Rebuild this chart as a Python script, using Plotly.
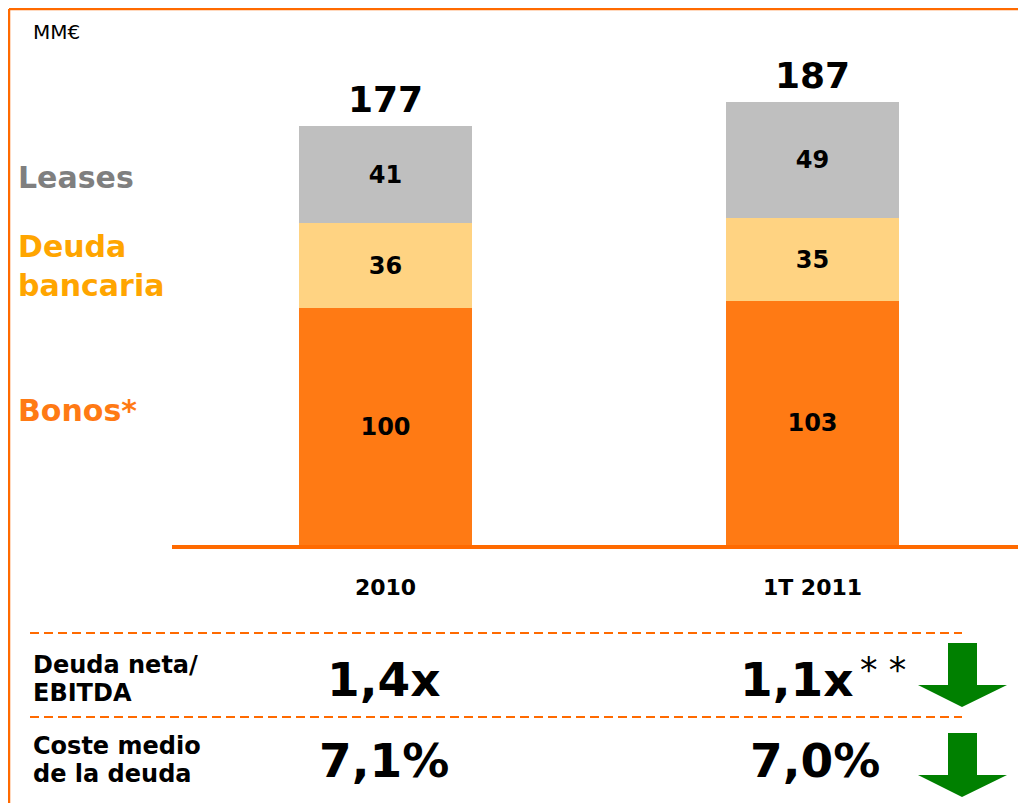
import plotly.graph_objects as go

W, H = 1026, 803
OFF = 8  # the page body adds an 8px margin

# Data
categories = ["2010", "1T 2011"]
bonos = [100, 103]
deuda_bancaria = [36, 35]
leases = [41, 49]
totals = [b + d + l for b, d, l in zip(bonos, deuda_bancaria, leases)]
ratio_labels = [("Deuda neta/", "EBITDA"), ("Coste medio", "de la deuda")]
ratio_2010 = ["1,4x", "7,1%"]
ratio_1t2011 = ["1,1x", "7,0%"]

ORANGE = "#FF7A14"
LINE_ORANGE = "#FF6A00"
LIGHT = "#FFD382"
GREY = "#BFBFBF"
FONT = "DejaVu Sans"


def px(x, y):
    """screen pixel -> paper coordinates"""
    return (x - OFF) / W, 1 - (y - OFF) / H


fig = go.Figure()
for name, vals, col in [("Bonos*", bonos, ORANGE),
                        ("Deuda bancaria", deuda_bancaria, LIGHT),
                        ("Leases", leases, GREY)]:
    fig.add_trace(go.Bar(
        x=categories, y=vals, name=name,
        marker=dict(color=col, line=dict(width=0)),
        width=0.405,
        text=vals,
        textposition="inside",
        insidetextanchor="middle",
        textangle=0,
        textfont=dict(family=FONT, size=24, color="black", weight="bold"),
    ))

annotations = []
# totals above bars (x by category index)
for i, t in enumerate(totals):
    annotations.append(dict(x=i, y=t, xref="x", yref="y", text=f"<b>{t}</b>",
                            yanchor="bottom", yshift=4, showarrow=False,
                            font=dict(family=FONT, size=36, color="black")))

# left series labels
for txt, y, col in [("Leases", 178, "#7F7F7F"),
                    ("Deuda<br>bancaria", 266, "#FFA500"),
                    ("Bonos*", 410, ORANGE)]:
    xx, yy = px(16, y)
    annotations.append(dict(x=xx, y=yy, xref="paper", yref="paper", text=f"<b>{txt}</b>",
                            xanchor="left", yanchor="middle", align="left", showarrow=False,
                            font=dict(family=FONT, size=30, color=col)))

xx, yy = px(31, 32)
annotations.append(dict(x=xx, y=yy, xref="paper", yref="paper", text="MM€",
                        xanchor="left", yanchor="middle", showarrow=False,
                        font=dict(family=FONT, size=20, color="black")))

# ratio rows
row_y = [679, 760]
for (l1, l2), v1, v2, ry in zip(ratio_labels, ratio_2010, ratio_1t2011, row_y):
    for txt, dy in [(l1, -14), (l2, 14)]:
        xx, yy = px(31, ry + dy)
        annotations.append(dict(x=xx, y=yy, xref="paper", yref="paper", text=f"<b>{txt}</b>",
                                xanchor="left", yanchor="middle", showarrow=False,
                                font=dict(family=FONT, size=24, color="black")))
    xx, yy = px(384, ry)
    annotations.append(dict(x=xx, y=yy, xref="paper", yref="paper", text=f"<b>{v1}</b>",
                            xanchor="center", yanchor="middle", showarrow=False,
                            font=dict(family=FONT, size=47, color="black")))
    xx, yy = px(856 if v2.endswith("x") else 815, ry)
    annotations.append(dict(x=xx, y=yy, xref="paper", yref="paper", text=f"<b>{v2}</b>",
                            xanchor="right" if v2.endswith("x") else "center",
                            yanchor="middle", showarrow=False,
                            font=dict(family=FONT, size=47, color="black")))
xx, yy = px(858, 670)
annotations.append(dict(x=xx, y=yy, xref="paper", yref="paper", text="* *",
                        xanchor="left", yanchor="middle", showarrow=False,
                        font=dict(family=FONT, size=35, color="black")))

shapes = []
# frame (left + top)
fx, fy = px(7, 5)
fx, fy = max(fx, 1 / W), min(fy, 1 - 1 / H)
shapes.append(dict(type="line", xref="paper", yref="paper", x0=fx, x1=fx, y0=0, y1=fy,
                   line=dict(color=LINE_ORANGE, width=2.5)))
shapes.append(dict(type="line", xref="paper", yref="paper", x0=fx, x1=1, y0=fy, y1=fy,
                   line=dict(color=LINE_ORANGE, width=2.5)))
# dashed separators
for yline in [633, 717]:
    x0, y0 = px(30, yline)
    x1, _ = px(962, yline)
    shapes.append(dict(type="line", xref="paper", yref="paper", x0=x0, x1=x1, y0=y0, y1=y0,
                       line=dict(color=LINE_ORANGE, width=2, dash="9px,5px")))


# green down arrows
def arrow_path(top):
    pts = [(948, top), (977, top), (977, top + 42), (1007, top + 42), (962, top + 64),
           (918, top + 42), (948, top + 42)]
    return "M " + " L ".join("{},{}".format(*px(x, y)) for x, y in pts) + " Z"


for top in [643, 733]:
    shapes.append(dict(type="path", xref="paper", yref="paper", path=arrow_path(top),
                       fillcolor="#008000", line=dict(width=0)))

# bar plot area: baseline at y=545px, top at y=40px; ~2.367 px per unit
plot_top, base = 40, 545
yrange_max = (base - plot_top) / 2.367
dx0, dy0 = px(172, base)
dx1, dy1 = px(1026, plot_top)

fig.update_layout(
    barmode="stack",
    width=W, height=H,
    margin=dict(l=0, r=0, t=0, b=0),
    paper_bgcolor="white",
    plot_bgcolor="white",
    showlegend=False,
    xaxis=dict(domain=[dx0, dx1], range=[-0.5, 1.5], showline=True, linecolor=LINE_ORANGE,
               linewidth=4, ticks="", showgrid=False, zeroline=False, anchor="y",
               tickfont=dict(family=FONT, size=22, color="black", weight="bold"),
               ticklabelstandoff=20),
    yaxis=dict(domain=[dy0, dy1], range=[0, yrange_max], visible=False,
               showgrid=False, zeroline=False),
    annotations=annotations,
    shapes=shapes,
)

fig.write_html("out.html")
